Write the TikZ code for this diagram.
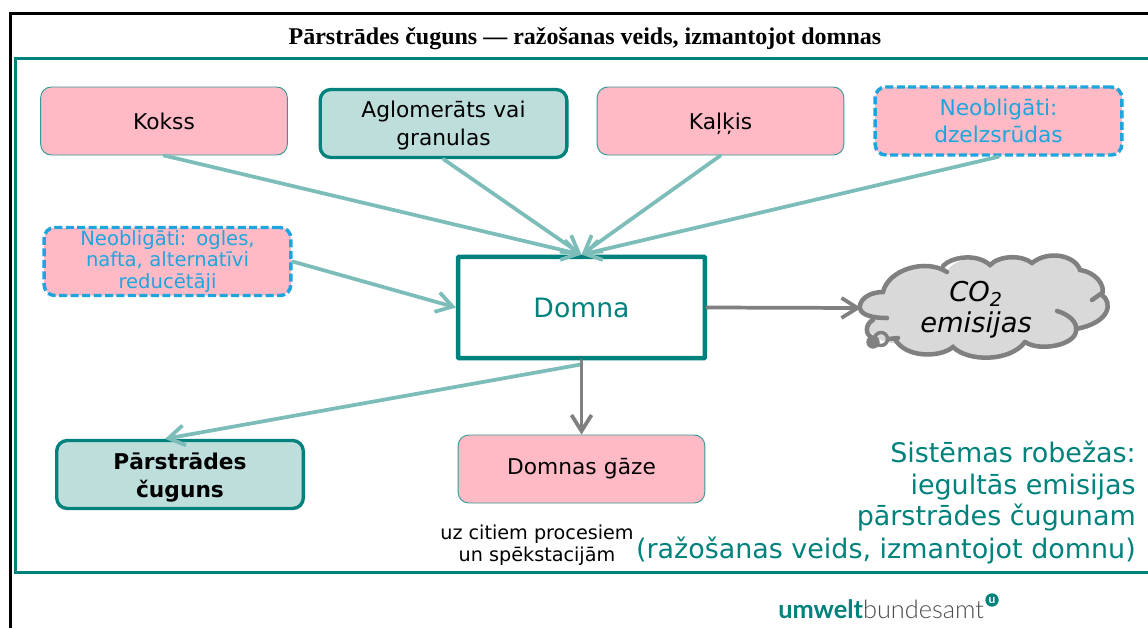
\documentclass[tikz,border=0pt]{standalone}
\usepackage{fontspec}
\setmainfont{DejaVu Sans}
\newfontfamily\titlefont{Liberation Serif}
\newfontfamily\logofont{Lato}
\newfontfamily\logolight{Lato Light}
\usetikzlibrary{arrows.meta,calc}
\definecolor{ubateal}{HTML}{00827C}
\definecolor{ubalight}{HTML}{BEDEDC}
\definecolor{ubapink}{HTML}{FFBAC6}
\definecolor{ubaarrow}{HTML}{7CBDB9}
\definecolor{ubablue}{HTML}{1FA5DE}
\definecolor{ubagray}{HTML}{808080}
\definecolor{ubacloud}{HTML}{D9D9D9}
\newcommand{\fs}[1]{\fontsize{#1}{#1}\selectfont}
\tikzset{
  x=0.75pt,y=-0.75pt,
  boxbase/.style={rounded corners=8pt,minimum width=185pt,minimum height=51pt,inner sep=0pt,align=center,text width=180pt,font=\fs{16.3}},
  pinkbox/.style={boxbase,draw=ubateal!80,line width=0.7pt,fill=ubapink,text=black},
  tealbox/.style={boxbase,draw=ubateal,line width=2.5pt,fill=ubalight,text=black},
  dashbox/.style={boxbase,draw=ubablue,line width=2.6pt,dash pattern=on 6pt off 2.6pt,fill=ubapink,text=ubablue},
  furnace/.style={draw=ubateal,line width=3.3pt,fill=white,text=ubateal,rounded corners=0.6pt,minimum width=185pt,minimum height=76pt,inner sep=0pt,font=\fs{20}},
  feed/.style={draw=ubaarrow,line width=2.8pt,line cap=round,-{Straight Barb[length=12pt,width=15pt,line width=2.8pt]}},
  grayflow/.style={draw=ubagray,line width=2.8pt,line cap=round,-{Straight Barb[length=12pt,width=15pt,line width=2.8pt]}},
  cloudline/.style={draw=ubagray,line width=3.4pt,line cap=round},
  caption/.style={inner sep=0pt,text=ubateal,font=\fs{20.2},anchor=base east},
}
\begin{document}
\begin{tikzpicture}
\useasboundingbox (0,0) rectangle (1148,628);
\fill[white] (0,0) rectangle (1148,628);
% frames
\draw[black,line width=2.2pt] (10.5,628) -- (10.5,13.5) -- (1148,13.5);
\draw[ubateal,line width=2pt] (1148,58.5) -- (15.5,58.5) -- (15.5,572.5) -- (1148,572.5);
\node[inner sep=0pt,font=\titlefont\bfseries\fs{18}] (title) at (585,38.5) {Pārstrādes čuguns — ražošanas veids, izmantojot domnas};
% cloud
\path[fill=ubacloud] (860,305) .. controls (862,297) and (872,292) .. (883,292)
 .. controls (888,270) and (925,258) .. (947,272)
 .. controls (950,262) and (975,252) .. (990,265)
 .. controls (1000,255) and (1022,255) .. (1032,263)
 .. controls (1048,250) and (1075,255) .. (1080,270)
 .. controls (1095,272) and (1106,285) .. (1102,295)
 .. controls (1112,302) and (1112,322) .. (1076,329)
 .. controls (1078,345) and (1040,352) .. (1025,343)
 .. controls (1010,362) and (968,362) .. (953,347)
 .. controls (940,358) and (905,358) .. (895,343)
 .. controls (875,343) and (860,325) .. (870,318)
 .. controls (862,315) and (858,310) .. (860,305) -- cycle;
\draw[cloudline] (860,305) .. controls (862,297) and (872,292) .. (883,292)
 .. controls (888,270) and (925,258) .. (947,272);
\draw[cloudline] (943,266) .. controls (950,258) and (975,252) .. (990,265)
 .. controls (1000,255) and (1022,255) .. (1032,263)
 .. controls (1048,250) and (1075,255) .. (1080,270)
 .. controls (1095,272) and (1106,285) .. (1102,295)
 .. controls (1112,302) and (1112,322) .. (1076,329);
\draw[cloudline] (1102,293) -- (1092,300);
\draw[cloudline] (1057,311) .. controls (1068,314) and (1078,322) .. (1076,331)
 .. controls (1075,345) and (1040,352) .. (1025,342);
\draw[cloudline] (1025,342) .. controls (1010,362) and (968,362) .. (953,347)
 .. controls (940,358) and (905,358) .. (895,339);
\draw[cloudline] (860,305) .. controls (858,314) and (870,318) .. (887,318);
\draw[cloudline] (873,320) .. controls (864,325) and (866,335) .. (872,338);
\draw[ubagray,line width=2.6pt] (881,339) circle[radius=6.5];
\draw[ubagray,fill=ubagray,line width=1pt] (873,342) circle[radius=6];
\draw[cloudline] (888,339) -- (898,338);
\node[inner sep=0pt,align=center,font=\itshape\fs{20.5}] (co2) at (976,310) {CO\textsubscript{2}\\[3pt]emisijas};
\coordinate (cloudin) at (861,308);
% nodes
\node[pinkbox] (kokss) at (164,121) {Kokss};
\node[tealbox] (aglo) at (443.5,123.5) {\rule{0pt}{15pt}Aglomerāts vai\\[5pt]granulas};
\node[pinkbox] (kalkis) at (720.5,121) {\raisebox{-6pt}[0pt][0pt]{Kaļķis}};
\node[dashbox] (ore) at (998.5,121) {Neobligāti:\\[4pt]dzelzsrūdas};
\node[dashbox,font=\fs{14.7}] (coal) at (167.5,261.5) {Neobligāti: ogles,\\[1.5pt]nafta, alternatīvi\\[1.5pt]reducētāji};
\node[furnace] (domna) at (581.5,307.5) {Domna};
\node[tealbox,font=\bfseries\fs{16.3}] (iron) at (180,474.5) {\rule{0pt}{17pt}Pārstrādes\\[5pt]čuguns};
\node[pinkbox] (gas) at (581.5,469) {Domnas gāze};
\coordinate (irontip) at ($(iron.north)+(-15,0)$);
\coordinate (ironstart) at ($(domna.south)+(0,4)$);
% connectors
\draw[feed] (kokss.south) -- (domna.north);
\draw[feed] (aglo.south) -- (domna.north);
\draw[feed] (kalkis.south) -- (domna.north);
\draw[feed] (ore.south) -- (domna.north);
\draw[feed] (coal.east) -- (domna.west);
\draw[feed] (ironstart) -- (irontip);
\draw[grayflow] (domna.south) -- (gas.north);
\draw[grayflow] (domna.east) -- (cloudin);
% labels
\node[inner sep=0pt,align=center,font=\fs{14.4}] (uses) at (537,545) {uz citiem procesiem\\[2.5pt]un spēkstacijām};
\node[caption] (cap1) at (1136,462) {Sistēmas robežas:};
\node[caption] (cap2) at (1136,494) {iegultās emisijas};
\node[caption] (cap3) at (1136,525) {pārstrādes čugunam};
\node[caption] (cap4) at (1136,558) {(ražošanas veids, izmantojot domnu)};
% logo
\node[inner sep=0pt,anchor=base west,font=\fs{19}] (logo) at (778,618) {\textcolor{ubateal}{\logofont\bfseries umwelt}\textcolor{black!70}{\logolight bundesamt}};
\node[circle,fill=ubateal,text=white,inner sep=0pt,minimum size=10pt,font=\logofont\bfseries\fs{9}] (logou) at (992,600) {u};
\end{tikzpicture}
\end{document}
